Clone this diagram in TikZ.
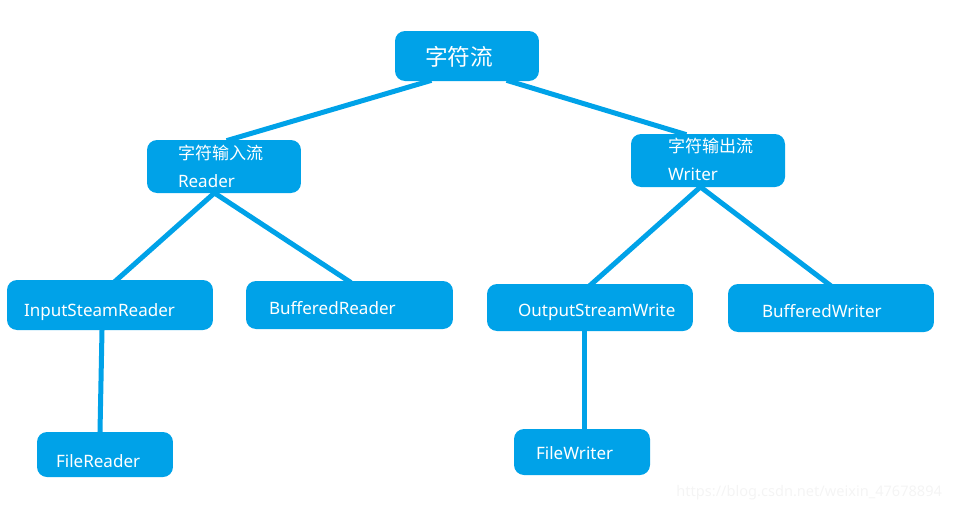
\documentclass[tikz,border=0pt]{standalone}
\usepackage{fontspec}
\setmainfont{Noto Sans}
\newfontfamily\cjk{Noto Sans CJK SC}
\usetikzlibrary{calc,backgrounds}
\definecolor{paintblue}{RGB}{0,162,232}

\begin{document}
\begin{tikzpicture}[x=0.02cm, y=-0.02cm,
    blob/.style={fill=paintblue, rounded corners=0.2cm, inner sep=0pt, minimum height=1.0cm},
    txt/.style={anchor=west, inner sep=0pt, text=white, align=left,
                font=\fontsize{9.7}{15.9}\selectfont},
    link/.style={draw=paintblue, line width=0.1cm, shorten <=-2pt, shorten >=-2pt}]
  \useasboundingbox (0,0) rectangle (955,511);

  % top
  \node[blob, minimum width=2.88cm,
        label={[txt, xshift=0.6cm, yshift=-0.02cm, font=\cjk\fontsize{12.9}{15}\selectfont]west:字符流}]
      (root) at (467,56) {};

  % second row
  \node[blob, minimum width=3.08cm, minimum height=1.06cm,
        label={[txt, xshift=0.62cm]west:{\cjk 字符输入流}\\Reader}]
      (rd) at (224,166.5) {};
  \node[blob, minimum width=3.08cm, minimum height=1.06cm,
        label={[txt, xshift=0.74cm, yshift=0.02cm]west:{\cjk 字符输出流}\\Writer}]
      (wr) at (708,160.5) {};

  % third row
  \node[blob, minimum width=4.12cm,
        label={[txt, xshift=0.34cm, yshift=-0.15cm]west:InputSteamReader}]
      (isr) at (110,305) {};
  \node[blob, minimum width=4.14cm, minimum height=0.96cm,
        label={[txt, xshift=0.46cm, yshift=-0.07cm]west:BufferedReader}]
      (br) at (349.5,305) {};
  \node[blob, minimum width=4.12cm, minimum height=0.94cm,
        label={[txt, xshift=0.62cm, yshift=-0.1cm]west:OutputStreamWrite}]
      (osw) at (590,307.5) {};
  \node[blob, minimum width=4.12cm, minimum height=0.96cm,
        label={[txt, xshift=0.68cm, yshift=-0.07cm]west:BufferedWriter}]
      (bw) at (831,308) {};

  % bottom
  \node[blob, minimum width=2.72cm, minimum height=0.9cm,
        label={[txt, xshift=0.38cm, yshift=-0.14cm]west:FileReader}]
      (fr) at (105,454.5) {};
  \node[blob, minimum width=2.72cm, minimum height=0.92cm,
        label={[txt, xshift=0.44cm, yshift=-0.03cm]west:FileWriter}]
      (fw) at (582,452) {};

  \node[anchor=west, inner sep=0pt, text=gray!9,
        font=\fontsize{8.3}{10}\selectfont]
      (wm) at (676,493) {https://blog.csdn.net/weixin\_47678894};

  \begin{scope}[on background layer]
    \draw[link] ($(root.south)+(-39,0)$) -- ($(rd.north)+(6,0)$);
    \draw[link] ($(root.south)+(43,0)$) -- ($(wr.north)+(-25,0)$);
    \draw[link] ($(rd.south)+(-10,0)$) -- ($(isr.north)+(7,0)$);
    \draw[link] ($(rd.south)+(-9,0)$) -- ($(br.north)+(-1.5,0)$);
    \draw[link] ($(wr.south)+(-8,0)$) -- ($(osw.north)+(2,0)$);
    \draw[link] ($(wr.south)+(-7,0)$) -- ($(bw.north)+(-3,0)$);
    \draw[link] ($(isr.south)+(-8,0)$) -- ($(fr.north)+(-5,0)$);
    \draw[link] ($(osw.south)+(-6,0)$) -- ($(fw.north)+(2,0)$);
  \end{scope}
\end{tikzpicture}
\end{document}
